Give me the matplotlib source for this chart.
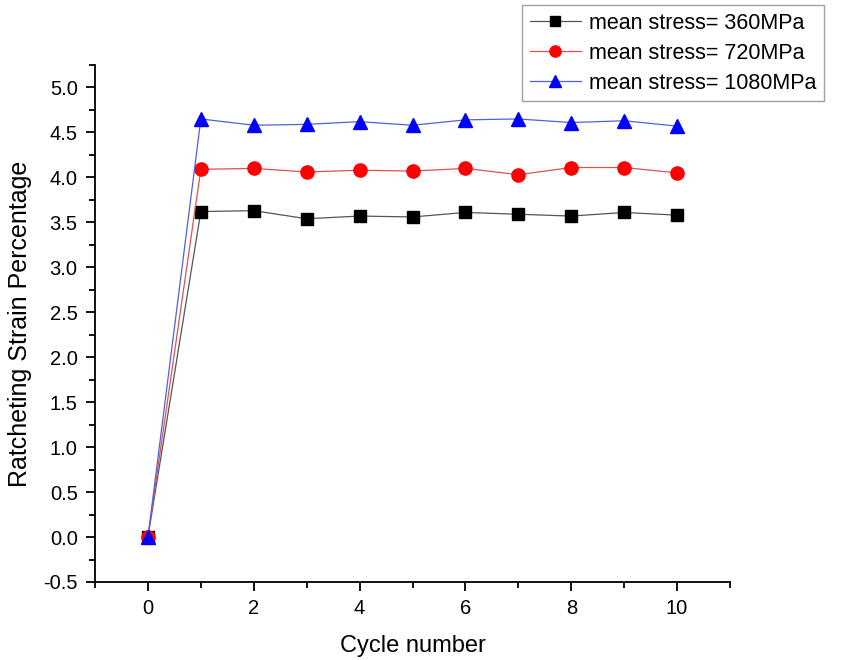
import matplotlib
matplotlib.use("Agg")
import matplotlib.pyplot as plt
from matplotlib.ticker import MultipleLocator

plt.rcParams['font.family'] = ['Liberation Sans', 'DejaVu Sans']

cycles = [0, 1, 2, 3, 4, 5, 6, 7, 8, 9, 10]
s360 = [0.0, 3.62, 3.63, 3.54, 3.57, 3.56, 3.61, 3.59, 3.57, 3.61, 3.58]
s720 = [0.0, 4.09, 4.10, 4.06, 4.08, 4.07, 4.10, 4.03, 4.11, 4.11, 4.05]
s1080 = [0.0, 4.65, 4.58, 4.59, 4.62, 4.58, 4.64, 4.65, 4.61, 4.63, 4.57]
labels = ["mean stress= 360MPa", "mean stress= 720MPa", "mean stress= 1080MPa"]

fig = plt.figure(figsize=(8.43, 6.60), dpi=100)
ax = fig.add_axes([0.1127, 0.1182, 0.866 - 0.1127, 0.9015 - 0.1182])

h1, = ax.plot(cycles, s360, color='#555555', lw=0.9, marker='s', ms=8.5,
              mfc='black', mec='black', label=labels[0])
h2, = ax.plot(cycles, s720, color='#e05050', lw=0.9, marker='o', ms=9.5,
              mfc='red', mec='red', label=labels[1])
h3, = ax.plot(cycles, s1080, color='#5060e0', lw=0.9, marker='^', ms=9.5,
              mfc='blue', mec='blue', label=labels[2])

ax.set_xlim(-1, 11)
ax.set_ylim(-0.5, 5.25)
ax.xaxis.set_major_locator(MultipleLocator(2))
ax.xaxis.set_minor_locator(MultipleLocator(1))
ax.yaxis.set_major_locator(MultipleLocator(0.5))
ax.yaxis.set_minor_locator(MultipleLocator(0.25))
ax.yaxis.set_major_formatter(matplotlib.ticker.FormatStrFormatter('%.1f'))

for s in ['top', 'right']:
    ax.spines[s].set_visible(False)
for s in ['left', 'bottom']:
    ax.spines[s].set_linewidth(1.3)

ax.tick_params(which='major', direction='out', length=6.5, width=1.3, labelsize=14.5, pad=6)
ax.tick_params(which='minor', direction='out', length=4, width=1.3)

ax.set_xlabel("Cycle number", fontsize=17, labelpad=12)
ax.set_ylabel("Ratcheting Strain Percentage", fontsize=18, labelpad=8)

leg = fig.legend(handles=[h1, h2, h3], loc='upper left',
                 bbox_to_anchor=(522 / 843, 1 - 5 / 660),
                 fontsize=15.5, frameon=True, fancybox=False,
                 handlelength=2.4, handletextpad=0.35, labelspacing=0.42,
                 borderpad=0.35, borderaxespad=0.0, markerscale=0.85)
leg.get_frame().set_edgecolor('#888888')
leg.get_frame().set_linewidth(1.0)

fig.savefig("out.png", dpi=100)
